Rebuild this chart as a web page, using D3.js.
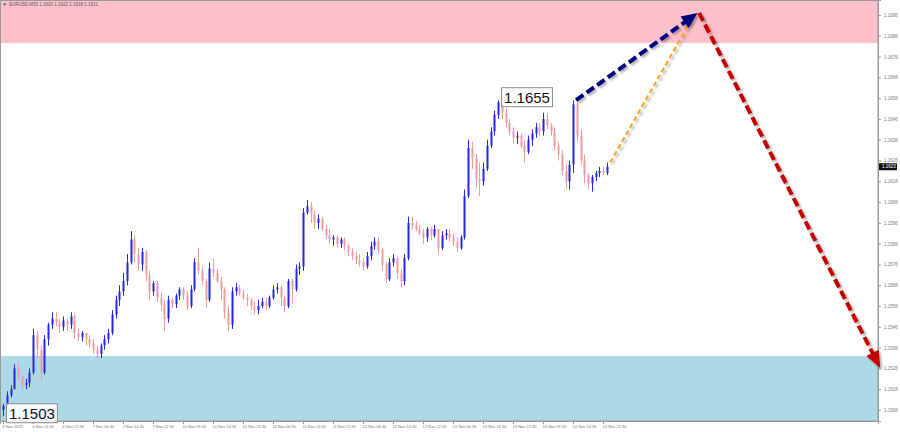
<!DOCTYPE html>
<html>
<head>
<meta charset="utf-8">
<script src="https://cdn.jsdelivr.net/npm/d3@7"></script>
<style>
  body { margin: 0; background: #fff; }
  svg { display: block; font-family: "Liberation Sans", Arial, sans-serif; }
</style>
</head>
<body>
<div id="chart"></div>
<script>
// chart values
const symbolTitle = 'EURUSD,M30  1.1620 1.1622 1.1618 1.1621';
const firstOpen = 1.1506;

const closes = [
  1.1508, 1.1513, 1.1516, 1.1526, 1.1522, 1.1518, 1.1519, 1.1524, 1.1542, 1.1535,
  1.1524, 1.1540, 1.1547, 1.1550, 1.1548, 1.1546, 1.1549, 1.1547, 1.1551, 1.1543,
  1.1541, 1.1543, 1.1540, 1.1538, 1.1535, 1.1533, 1.1537, 1.1540, 1.1543, 1.1552,
  1.1559, 1.1563, 1.1568, 1.1577, 1.1588, 1.1581, 1.1576, 1.1582, 1.1571, 1.1563,
  1.1567, 1.1560, 1.1557, 1.1550, 1.1559, 1.1557, 1.1561, 1.1564, 1.1561, 1.1556,
  1.1564, 1.1577, 1.1573, 1.1568, 1.1559, 1.1574, 1.1572, 1.1568, 1.1564, 1.1553,
  1.1547, 1.1563, 1.1565, 1.1562, 1.1560, 1.1559, 1.1556, 1.1554, 1.1556, 1.1558,
  1.1556, 1.1560, 1.1564, 1.1565, 1.1560, 1.1556, 1.1568, 1.1564, 1.1574, 1.1575,
  1.1601, 1.1604, 1.1600, 1.1596, 1.1598, 1.1593, 1.1590, 1.1588, 1.1589, 1.1586,
  1.1588, 1.1585, 1.1582, 1.1580, 1.1578, 1.1577, 1.1575, 1.1580, 1.1585, 1.1587,
  1.1583, 1.1576, 1.1569, 1.1577, 1.1579, 1.1572, 1.1568, 1.1579, 1.1596, 1.1595,
  1.1593, 1.1591, 1.1589, 1.1593, 1.1590, 1.1593, 1.1584, 1.1590, 1.1591, 1.1589,
  1.1587, 1.1584, 1.1589, 1.1609, 1.1632, 1.1627, 1.1617, 1.1616, 1.1622, 1.1633,
  1.1640, 1.1648, 1.1654, 1.1649, 1.1644, 1.1640, 1.1637, 1.1638, 1.1633, 1.1630,
  1.1636, 1.1639, 1.1642, 1.1640, 1.1646, 1.1643, 1.1640, 1.1633, 1.1629, 1.1621,
  1.1616, 1.1624, 1.1653, 1.1638, 1.1626, 1.1619, 1.1615, 1.1618, 1.1620, 1.1621,
  1.1620, 1.1623
];

const highs = [
  1.1509, 1.1515, 1.1518, 1.1528, 1.1529, 1.1523, 1.1521, 1.1526, 1.1545, 1.1544,
  1.1537, 1.1542, 1.1548, 1.1553, 1.1553, 1.1550, 1.1551, 1.1550, 1.1553, 1.1552,
  1.1545, 1.1544, 1.1543, 1.1542, 1.1540, 1.1537, 1.1538, 1.1542, 1.1545, 1.1554,
  1.1561, 1.1566, 1.1572, 1.1581, 1.1592, 1.1590, 1.1584, 1.1584, 1.1583, 1.1573,
  1.1568, 1.1568, 1.1563, 1.1559, 1.1561, 1.1560, 1.1562, 1.1565, 1.1565, 1.1563,
  1.1566, 1.1579, 1.1584, 1.1575, 1.1569, 1.1577, 1.1579, 1.1574, 1.1570, 1.1565,
  1.1556, 1.1565, 1.1567, 1.1566, 1.1564, 1.1562, 1.1560, 1.1558, 1.1559, 1.1560,
  1.1560, 1.1561, 1.1566, 1.1567, 1.1566, 1.1561, 1.1569, 1.1569, 1.1576, 1.1577,
  1.1603, 1.1607, 1.1606, 1.1602, 1.1600, 1.1599, 1.1595, 1.1593, 1.1590, 1.1590,
  1.1589, 1.1589, 1.1586, 1.1584, 1.1582, 1.1581, 1.1579, 1.1582, 1.1587, 1.1589,
  1.1589, 1.1584, 1.1577, 1.1579, 1.1581, 1.1580, 1.1574, 1.1581, 1.1599, 1.1599,
  1.1597, 1.1595, 1.1593, 1.1594, 1.1594, 1.1595, 1.1593, 1.1592, 1.1593, 1.1593,
  1.1591, 1.1589, 1.1590, 1.1612, 1.1636, 1.1635, 1.1629, 1.1625, 1.1625, 1.1636,
  1.1642, 1.1650, 1.1655, 1.1654, 1.1651, 1.1646, 1.1642, 1.1640, 1.1639, 1.1636,
  1.1638, 1.1641, 1.1644, 1.1644, 1.1649, 1.1649, 1.1644, 1.1642, 1.1635, 1.1631,
  1.1624, 1.1626, 1.1655, 1.1654, 1.1641, 1.1629, 1.1620, 1.1619, 1.1621, 1.1623,
  1.1623, 1.1625
];

const lows = [
  1.1503, 1.1507, 1.1512, 1.1516, 1.1520, 1.1516, 1.1516, 1.1517, 1.1523, 1.1531,
  1.1520, 1.1523, 1.1537, 1.1545, 1.1546, 1.1543, 1.1544, 1.1544, 1.1545, 1.1540,
  1.1539, 1.1539, 1.1537, 1.1536, 1.1533, 1.1531, 1.1531, 1.1535, 1.1538, 1.1542,
  1.1550, 1.1556, 1.1561, 1.1566, 1.1576, 1.1577, 1.1573, 1.1573, 1.1568, 1.1559,
  1.1561, 1.1558, 1.1554, 1.1544, 1.1548, 1.1555, 1.1555, 1.1559, 1.1559, 1.1554,
  1.1555, 1.1563, 1.1571, 1.1566, 1.1555, 1.1558, 1.1570, 1.1567, 1.1559, 1.1550,
  1.1544, 1.1545, 1.1561, 1.1561, 1.1559, 1.1556, 1.1554, 1.1552, 1.1552, 1.1555,
  1.1554, 1.1555, 1.1559, 1.1562, 1.1556, 1.1553, 1.1555, 1.1557, 1.1563, 1.1571,
  1.1573, 1.1600, 1.1596, 1.1593, 1.1593, 1.1592, 1.1588, 1.1586, 1.1585, 1.1584,
  1.1584, 1.1583, 1.1580, 1.1578, 1.1576, 1.1575, 1.1573, 1.1574, 1.1578, 1.1583,
  1.1581, 1.1573, 1.1567, 1.1568, 1.1575, 1.1569, 1.1565, 1.1566, 1.1578, 1.1593,
  1.1592, 1.1590, 1.1586, 1.1587, 1.1588, 1.1589, 1.1581, 1.1583, 1.1588, 1.1587,
  1.1585, 1.1582, 1.1583, 1.1588, 1.1608, 1.1622, 1.1613, 1.1609, 1.1614, 1.1621,
  1.1632, 1.1638, 1.1646, 1.1646, 1.1642, 1.1638, 1.1634, 1.1634, 1.1632, 1.1625,
  1.1629, 1.1633, 1.1637, 1.1638, 1.1638, 1.1641, 1.1638, 1.1631, 1.1626, 1.1619,
  1.1612, 1.1612, 1.1620, 1.1635, 1.1624, 1.1615, 1.1612, 1.1611, 1.1616, 1.1618,
  1.1619, 1.1619
];

const timeLabels = [
  '6 Nov 2025', '6 Nov 14:30', '6 Nov 22:30', '7 Nov 06:30', '7 Nov 14:30', '7 Nov 22:30',
  '10 Nov 06:30', '10 Nov 14:30', '10 Nov 22:30', '11 Nov 06:30', '11 Nov 14:30', '11 Nov 22:30',
  '12 Nov 06:30', '12 Nov 14:30', '12 Nov 22:30', '13 Nov 06:30', '13 Nov 14:30', '13 Nov 22:30',
  '14 Nov 06:30', '14 Nov 14:30', '14 Nov 22:30'
];
const barsPerLabel = 8;

const priceTicks = [
  1.1506, 1.1516, 1.1526, 1.1536, 1.1546, 1.1556, 1.1566, 1.1576, 1.1586, 1.1596,
  1.1606, 1.1616, 1.1626, 1.1636, 1.1646, 1.1656, 1.1666, 1.1676, 1.1686, 1.1696
];

// zones [bottom, top]
const resistanceZone = [1.16825, 1.1720];
const supportZone = [1.1480, 1.1532];

// extremes marked with a boxed label: [bar, price]
const extremes = [[132, 1.1655], [0, 1.1503]];

// wave forecast arrows: [bar, price] pairs
const upWave = [[152.8, 1.1655], [185.2, 1.1697]];
const downWave = [[185.6, 1.1697], [233.9, 1.15262]];
const correctionWave = [[161.9, 1.1625], [183.3, 1.1693]];

let visConfig = {
  width: 900,
  height: 432,
  plotRight: 878,
  plotBottom: 421
};

let x = d3.scaleLinear()
  .domain([-0.8, 233.3])
  .range([0, visConfig.plotRight]);

let y = d3.scaleLinear()
  .domain([1.15007, 1.17032])
  .range([visConfig.plotBottom, 0]);

let svg = d3.select('#chart')
  .append('svg')
  .attr('width', visConfig.width)
  .attr('height', visConfig.height);

let defs = svg.append('defs');
defs.append('clipPath')
  .attr('id', 'plot-clip')
  .append('rect')
  .attr('width', visConfig.plotRight)
  .attr('height', visConfig.plotBottom);

defs.append('filter')
  .attr('id', 'shadow')
  .attr('x', '-20%').attr('y', '-20%')
  .attr('width', '140%').attr('height', '140%')
  .append('feDropShadow')
  .attr('dx', 2).attr('dy', 2)
  .attr('stdDeviation', 1)
  .attr('flood-color', '#000')
  .attr('flood-opacity', 0.3);

let plot = svg.append('g').attr('clip-path', 'url(#plot-clip)');

// zones
[[resistanceZone, 'pink'], [supportZone, 'lightblue']].forEach(([z, fill]) => {
  plot.append('rect')
    .attr('x', 0)
    .attr('width', visConfig.plotRight)
    .attr('y', y(z[1]))
    .attr('height', y(z[0]) - y(z[1]))
    .attr('fill', fill);
});

// candles, open = previous close
let candles = closes.map((c, i) => {
  let o = i === 0 ? firstOpen : closes[i - 1];
  return {
    i: i,
    o: o,
    c: c,
    h: Math.max(highs[i], o, c),
    l: Math.min(lows[i], o, c)
  };
});

const bullColor = '#2626e6';
const bearColor = '#ef9c9c';

let candleGroups = plot.selectAll('.candle')
  .data(candles)
  .enter()
  .append('g')
  .attr('class', 'candle');

candleGroups.append('line')
  .attr('x1', d => Math.round(x(d.i)) + 0.5)
  .attr('x2', d => Math.round(x(d.i)) + 0.5)
  .attr('y1', d => y(d.h))
  .attr('y2', d => y(d.l))
  .attr('stroke', d => d.c >= d.o ? bullColor : bearColor)
  .attr('stroke-width', 1);

candleGroups.append('rect')
  .attr('x', d => Math.round(x(d.i)) - 0.5)
  .attr('width', 2)
  .attr('y', d => Math.min(y(d.o), y(d.c)))
  .attr('height', d => Math.max(1, Math.abs(y(d.o) - y(d.c))))
  .attr('fill', d => d.c >= d.o ? bullColor : bearColor);

// plot frame
svg.append('rect')
  .attr('x', 0.5).attr('y', 0.5)
  .attr('width', visConfig.plotRight - 0.5)
  .attr('height', visConfig.plotBottom - 0.5)
  .attr('fill', 'none')
  .attr('stroke', '#9a9a9a');

// axes
let rightAxis = d3.axisRight(y)
  .tickValues(priceTicks)
  .tickSize(3)
  .tickFormat(d3.format('.4f'));

let yaxis = svg.append('g')
  .attr('transform', `translate(${visConfig.plotRight}, 0)`)
  .call(rightAxis);

let bottomAxis = d3.axisBottom(x)
  .tickValues(timeLabels.map((d, k) => k * barsPerLabel))
  .tickSize(3)
  .tickFormat((d, k) => timeLabels[k]);

let xaxis = svg.append('g')
  .attr('transform', `translate(0, ${visConfig.plotBottom})`)
  .call(bottomAxis);

[yaxis, xaxis].forEach(a => {
  a.select('.domain').attr('stroke', '#9a9a9a');
  a.selectAll('.tick line').attr('stroke', '#9a9a9a');
  a.selectAll('.tick text')
    .attr('fill', '#777');
});
yaxis.selectAll('.tick text').style('font-size', '4.5px');
xaxis.selectAll('.tick text')
  .style('font-size', '4px')
  .attr('text-anchor', 'start')
  .attr('x', -1)
  .attr('y', 4.5);

// current price marker
let last = candles[candles.length - 1];
let priceTag = svg.append('g')
  .attr('transform', `translate(${visConfig.plotRight + 1}, ${y(last.c)})`);
priceTag.append('rect')
  .attr('x', 0).attr('y', -3.5)
  .attr('width', 18).attr('height', 7)
  .attr('fill', '#111');
priceTag.append('text')
  .attr('x', 3).attr('y', 1.6)
  .attr('fill', '#fff')
  .style('font-size', '4.5px')
  .text(d3.format('.4f')(last.c));

// forecast arrows
function drawArrow(points, color, width, dash, headLen, headWidth) {
  let p0 = [x(points[0][0]), y(points[0][1])];
  let p1 = [x(points[1][0]), y(points[1][1])];
  let dx = p1[0] - p0[0];
  let dy = p1[1] - p0[1];
  let len = Math.hypot(dx, dy);
  let ux = dx / len, uy = dy / len;
  let g = svg.append('g').attr('filter', 'url(#shadow)');
  let end = headLen ? [p1[0] - ux * headLen * 0.8, p1[1] - uy * headLen * 0.8] : p1;
  g.append('line')
    .attr('x1', p0[0]).attr('y1', p0[1])
    .attr('x2', end[0]).attr('y2', end[1])
    .attr('stroke', color)
    .attr('stroke-width', width)
    .attr('stroke-dasharray', dash);
  if (headLen) {
    let bx = p1[0] - ux * headLen, by = p1[1] - uy * headLen;
    let nx = -uy * headWidth / 2, ny = ux * headWidth / 2;
    g.append('polygon')
      .attr('points', [[p1[0], p1[1]], [bx + nx, by + ny], [bx - nx, by - ny]].map(p => p.join(',')).join(' '))
      .attr('fill', color);
  }
}

drawArrow(correctionWave, '#ffa216', 2, '5,3', 0, 0);
drawArrow(upWave, '#00007f', 4, '9,4', 16, 14);
drawArrow(downWave, '#c40000', 4, '9,4', 17, 14);

// extreme labels
extremes.forEach(([bar, price]) => {
  let g = svg.append('g')
    .attr('transform', `translate(${x(bar) + 3}, ${y(price) - 3})`);
  let t = g.append('text')
    .attr('x', 3)
    .attr('y', 5.5)
    .attr('fill', '#111')
    .style('font-size', '15px')
    .text(d3.format('.4f')(price));
  let w = t.node().getComputedTextLength();
  g.insert('rect', 'text')
    .attr('x', 0.5).attr('y', -9.5)
    .attr('width', w + 5).attr('height', 19)
    .attr('fill', '#fff')
    .attr('fill-opacity', 0.85)
    .attr('stroke', '#8a8a8a');
});

// title
let title = svg.append('g').attr('transform', 'translate(3, 6)');
title.append('polygon')
  .attr('points', '0,-2.5 3.5,-2.5 1.75,0')
  .attr('fill', '#555');
title.append('text')
  .attr('x', 6).attr('y', 0)
  .attr('fill', '#555')
  .style('font-size', '4.5px')
  .text(symbolTitle);
</script>
</body>
</html>
